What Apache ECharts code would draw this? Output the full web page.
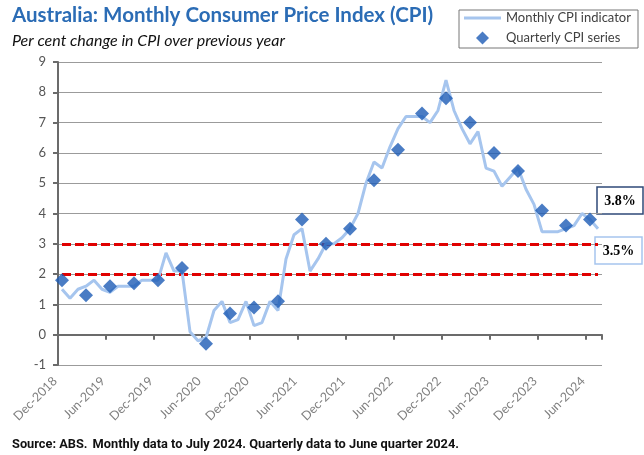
<!DOCTYPE html>
<html><head><meta charset="utf-8">
<script src="https://cdn.jsdelivr.net/npm/echarts@6/dist/echarts.min.js"></script>
<style>html,body{margin:0;padding:0;background:#fff}#c{width:644px;height:455px}</style>
</head><body><div id="c"></div>
<script>
// ---- data ----
const months = [
 'Dec-2018','Jan-2019','Feb-2019','Mar-2019','Apr-2019','May-2019','Jun-2019','Jul-2019','Aug-2019','Sep-2019','Oct-2019','Nov-2019',
 'Dec-2019','Jan-2020','Feb-2020','Mar-2020','Apr-2020','May-2020','Jun-2020','Jul-2020','Aug-2020','Sep-2020','Oct-2020','Nov-2020',
 'Dec-2020','Jan-2021','Feb-2021','Mar-2021','Apr-2021','May-2021','Jun-2021','Jul-2021','Aug-2021','Sep-2021','Oct-2021','Nov-2021',
 'Dec-2021','Jan-2022','Feb-2022','Mar-2022','Apr-2022','May-2022','Jun-2022','Jul-2022','Aug-2022','Sep-2022','Oct-2022','Nov-2022',
 'Dec-2022','Jan-2023','Feb-2023','Mar-2023','Apr-2023','May-2023','Jun-2023','Jul-2023','Aug-2023','Sep-2023','Oct-2023','Nov-2023',
 'Dec-2023','Jan-2024','Feb-2024','Mar-2024','Apr-2024','May-2024','Jun-2024','Jul-2024'
];
const monthlyCPI = [
 1.5, 1.2, 1.5, 1.6, 1.8, 1.5, 1.4, 1.6, 1.6, 1.6, 1.8, 1.8,
 1.8, 2.7, 2.1, 2.1, 0.1, -0.2, -0.1, 0.8, 1.1, 0.4, 0.5, 1.1,
 0.3, 0.4, 1.1, 0.8, 2.5, 3.3, 3.5, 2.1, 2.5, 3.0, 3.0, 3.2,
 3.5, 4.0, 5.0, 5.7, 5.5, 6.2, 6.8, 7.2, 7.2, 7.2, 7.0, 7.4,
 8.4, 7.4, 6.8, 6.3, 6.7, 5.5, 5.4, 4.9, 5.2, 5.5, 4.8, 4.3,
 3.4, 3.4, 3.4, 3.5, 3.6, 4.0, 3.8, 3.5
];
const quarters = [
 'Dec-2018','Mar-2019','Jun-2019','Sep-2019','Dec-2019','Mar-2020','Jun-2020','Sep-2020','Dec-2020','Mar-2021','Jun-2021','Sep-2021',
 'Dec-2021','Mar-2022','Jun-2022','Sep-2022','Dec-2022','Mar-2023','Jun-2023','Sep-2023','Dec-2023','Mar-2024','Jun-2024'
];
const quarterlyCPI = [
 1.8, 1.3, 1.6, 1.7, 1.8, 2.2, -0.3, 0.7, 0.9, 1.1, 3.8, 3.0,
 3.5, 5.1, 6.1, 7.3, 7.8, 7.0, 6.0, 5.4, 4.1, 3.6, 3.8
];
const targetBand = [2, 3];
const yMin = -1, yMax = 9, yStep = 1;

// ---- chart ----
const FONT = 'Lato, "Noto Sans", sans-serif';
const chart = echarts.init(document.getElementById('c'), null, {renderer: 'canvas'});
const lastQ = quarterlyCPI[quarterlyCPI.length - 1];
const lastM = monthlyCPI[monthlyCPI.length - 1];

chart.setOption({
  animation: false,
  backgroundColor: '#fff',
  title: [
    {text: 'Australia: Monthly Consumer Price Index (CPI)', left: 12, top: 5, padding: 0,
     textStyle: {fontFamily: FONT, fontSize: 20.5, fontWeight: 'bold', color: '#2B6CB5'}},
    {text: 'Per cent change in CPI over previous year', left: 12, top: 33, padding: 0,
     textStyle: {fontFamily: FONT, fontSize: 16, fontStyle: 'italic', fontWeight: 'normal', color: '#111'}},
    {text: '{a|Source: ABS.} {b|Monthly data to July 2024. Quarterly data to June quarter 2024.}', left: 12, top: 436, padding: 0,
     textStyle: {rich: {
       a: {fontFamily: 'Roboto, sans-serif', fontSize: 12.8, color: '#111'},
       b: {fontFamily: 'Roboto, sans-serif', fontSize: 12.8, fontWeight: 'bold', color: '#111'}
     }}}
  ],
  legend: {
    orient: 'vertical', left: 464, top: 11, padding: 0, itemGap: 6,
    itemWidth: 37, itemHeight: 13, symbolKeepAspect: true,
    textStyle: {fontFamily: FONT, fontSize: 13, color: '#404040', lineHeight: 14},
    data: [
      {name: 'Monthly CPI indicator', icon: 'path://M0,0L37,0L37,3L0,3Z'},
      {name: 'Quarterly CPI series', icon: 'path://M0,-1L1,0L0,1L-1,0Z'}
    ]
  },
  grid: {left: 58, right: 42, top: 62, bottom: 90},
  xAxis: [
    {type: 'category', data: months, boundaryGap: true,
     axisLine: {onZero: true, lineStyle: {color: '#6b6b6b', width: 2}},
     axisTick: {show: true, interval: 5, length: 5, lineStyle: {color: '#6b6b6b', width: 2}},
     axisLabel: {show: false}, splitLine: {show: false}},
    {type: 'category', data: months, boundaryGap: true, position: 'bottom',
     axisLine: {show: false, onZero: false}, axisTick: {show: false}, splitLine: {show: false},
     axisLabel: {interval: 5, rotate: 45, margin: 7, padding: [0, 10, 0, 0], color: '#808080', fontSize: 12.5, fontFamily: FONT}}
  ],
  yAxis: {
    type: 'value', min: yMin, max: yMax, interval: yStep,
    axisLine: {show: true, lineStyle: {color: '#6b6b6b', width: 2}},
    axisTick: {show: true, length: 5, lineStyle: {color: '#6b6b6b', width: 2}},
    axisLabel: {margin: 12, color: '#555', fontSize: 13, fontFamily: FONT},
    splitLine: {lineStyle: {color: '#9b9b9b', width: 1}}
  },
  series: [
    {name: 'Monthly CPI indicator', type: 'line', xAxisIndex: 0, data: monthlyCPI, symbol: 'none',
     lineStyle: {color: '#A6C5EE', width: 3}, itemStyle: {color: '#A6C5EE'}, z: 3,
     markLine: {silent: true, symbol: 'none', label: {show: false}, z: 2,
       lineStyle: {color: '#E00000', width: 3, type: [9, 4]},
       data: targetBand.map(v => [{coord: [months[0], v]}, {coord: [months[months.length - 1], v]}])}},
    {name: 'Quarterly CPI series', type: 'scatter', xAxisIndex: 0,
     data: quarters.map((q, i) => [q, quarterlyCPI[i]]),
     symbol: 'diamond', symbolSize: 14, itemStyle: {color: '#1D5BB5'}, z: 4}
  ],
  graphic: [
    {type: 'rect', x: 459, y: 10, shape: {x: 0, y: 0, width: 179, height: 38},
     style: {fill: 'none', stroke: '#777', lineWidth: 1}, silent: true},
    {type: 'group', x: 597, y: 187, children: [
      {type: 'rect', shape: {x: 0, y: 0, width: 46, height: 27}, style: {fill: '#fff', stroke: '#2F4A78', lineWidth: 1.5}},
      {type: 'text', x: 23, y: 14, style: {text: lastQ.toFixed(1) + '%', font: 'bold 14px "Liberation Serif", serif', fill: '#000', align: 'center', verticalAlign: 'middle'}}
    ]},
    {type: 'group', x: 595, y: 237, children: [
      {type: 'rect', shape: {x: 0, y: 0, width: 47, height: 27}, style: {fill: '#fff', stroke: '#A6C5EE', lineWidth: 1.5}},
      {type: 'text', x: 23.5, y: 14, style: {text: lastM.toFixed(1) + '%', font: 'bold 14px "Liberation Serif", serif', fill: '#000', align: 'center', verticalAlign: 'middle'}}
    ]}
  ]
});
</script>
</body></html>
